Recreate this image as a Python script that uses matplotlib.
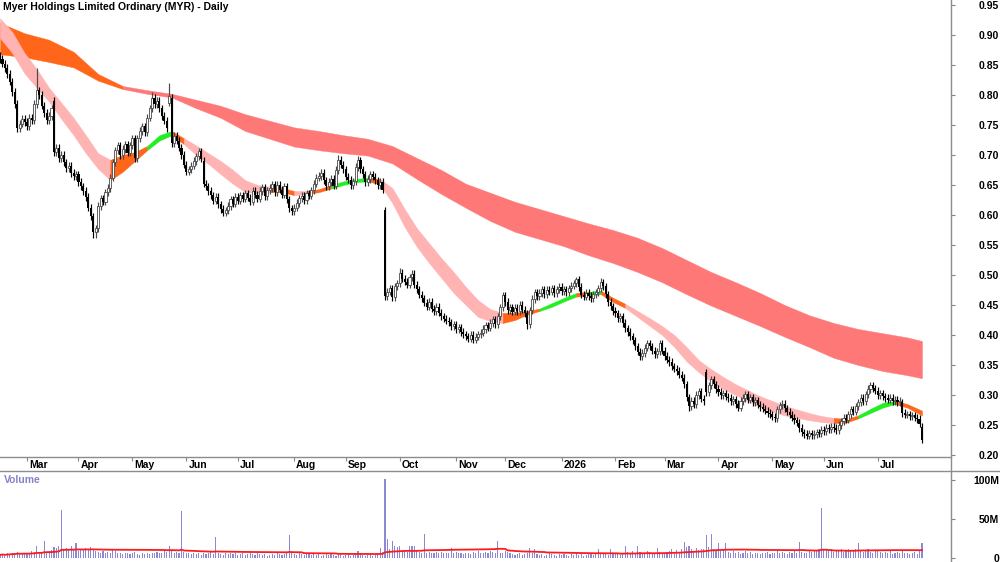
import numpy as np
import pandas as pd
import matplotlib
matplotlib.use("Agg")
import matplotlib.pyplot as plt
from matplotlib.lines import Line2D
from matplotlib.transforms import blended_transform_factory

plt.rcParams['font.family'] = ['Liberation Sans', 'DejaVu Sans']

TITLE = "Myer Holdings Limited Ordinary (MYR) - Daily"
START_DATE = "2025-02-14"

# daily closes, in thousandths of a dollar
CLOSE = [
    860, 852, 845, 835, 822, 805, 785, 745, 752, 760,
    755, 748, 762, 758, 785, 808, 800, 782, 770, 758,
    765, 778, 705, 712, 695, 700, 688, 678, 682, 670,
    665, 668, 655, 648, 640, 630, 612, 598, 572, 578,
    615, 628, 622, 638, 645, 662, 688, 708, 716, 700,
    710, 718, 704, 716, 728, 695, 728, 740, 748, 738,
    762, 778, 795, 785, 790, 778, 765, 757, 745, 798,
    720, 732, 724, 712, 700, 684, 672, 676, 682, 690,
    698, 706, 694, 652, 648, 640, 633, 624, 630, 618,
    610, 604, 608, 615, 626, 619, 630, 624, 633, 627,
    636, 629, 622, 640, 634, 627, 640, 646, 631, 641,
    645, 651, 638, 650, 642, 634, 648, 626, 611, 606,
    612, 620, 628, 632, 625, 636, 632, 641, 652, 662,
    665, 670, 658, 648, 655, 660, 649, 675, 692, 684,
    676, 664, 659, 650, 656, 680, 691, 676, 668, 655,
    660, 668, 664, 658, 650, 655, 642, 465, 472, 478,
    463, 481, 486, 504, 494, 489, 484, 496, 502, 484,
    476, 467, 461, 454, 447, 455, 444, 440, 447, 437,
    431, 427, 424, 421, 415, 418, 410, 413, 405, 401,
    398, 394, 400, 392, 397, 401, 404, 410, 416, 412,
    420, 426, 418, 431, 446, 466, 455, 441, 446, 439,
    445, 440, 450, 442, 436, 418, 441, 460, 471, 465,
    470, 476, 468, 475, 472, 478, 470, 476, 480, 473,
    476, 471, 478, 482, 486, 493, 480, 467, 464, 470,
    465, 461, 468, 471, 478, 488, 481, 468, 455, 448,
    440, 436, 428, 431, 420, 411, 405, 398, 391, 381,
    372, 365, 370, 379, 386, 381, 374, 368, 373, 386,
    374, 365, 359, 355, 348, 344, 340, 334, 329, 318,
    296, 281, 290, 285, 300, 306, 294, 290, 305, 316,
    326, 318, 310, 305, 300, 303, 297, 295, 290, 293,
    285, 279, 290, 295, 301, 292, 296, 288, 291, 284,
    280, 277, 274, 270, 268, 264, 261, 276, 283, 285,
    278, 272, 267, 262, 258, 254, 245, 238, 235, 232,
    236, 233, 235, 238, 236, 242, 240, 245, 243, 247,
    245, 241, 250, 256, 262, 259, 268, 276, 272, 281,
    288, 295, 290, 301, 310, 316, 311, 307, 300, 303,
    298, 295, 292, 295, 290, 292, 288, 290, 270, 267,
    268, 265, 266, 262, 260, 252, 225,
]
# opens that gap away from the previous close (bar index: open)
GAP_OPEN = {0: 865, 22: 790, 69: 787, 70: 795, 83: 690, 157: 608,
            288: 338, 368: 288, 376: 247}
SPIKE_HIGH = {15: 845, 62: 805, 69: 820, 138: 700, 146: 698, 163: 512,
              235: 497, 245: 495, 264: 392, 288: 343, 355: 322}
SPIKE_LOW = {38: 562, 39: 562, 119: 600, 193: 386, 215: 410, 281: 274,
             329: 226, 376: 220}

# daily volume, millions of shares
VOLUME_M = [
    4, 5, 3, 6, 5, 7, 6, 8, 5, 6,
    7, 5, 6, 9, 8, 15, 7, 6, 22, 8,
    9, 10, 14, 13, 16, 61, 12, 13, 10, 15,
    11, 19, 9, 12, 10, 13, 11, 14, 12, 9,
    8, 7, 9, 6, 8, 7, 12, 9, 7, 6,
    5, 6, 7, 5, 6, 8, 5, 4, 6, 5,
    6, 5, 7, 6, 8, 6, 7, 9, 8, 15,
    9, 7, 8, 6, 60, 8, 7, 6, 5, 7,
    5, 6, 4, 7, 5, 6, 8, 5, 27, 6,
    5, 4, 6, 5, 7, 5, 6, 4, 5, 6,
    4, 5, 6, 5, 4, 6, 5, 4, 5, 3,
    4, 5, 4, 6, 5, 4, 5, 7, 29, 6,
    5, 4, 6, 5, 4, 5, 6, 4, 5, 4,
    5, 3, 4, 5, 4, 6, 4, 3, 5, 4,
    3, 4, 5, 3, 4, 6, 9, 5, 4, 3,
    4, 5, 3, 4, 6, 13, 8, 101, 24, 12,
    22, 15, 14, 15, 10, 9, 8, 16, 15, 16,
    9, 8, 7, 31, 6, 8, 7, 6, 8, 7,
    8, 6, 7, 7, 13, 7, 8, 6, 7, 5,
    6, 7, 5, 8, 6, 9, 7, 6, 8, 7,
    9, 8, 7, 22, 6, 7, 9, 8, 6, 5,
    4, 5, 6, 4, 5, 7, 13, 6, 12, 5,
    4, 5, 3, 4, 6, 5, 4, 3, 5, 4,
    5, 4, 3, 5, 4, 6, 4, 5, 3, 4,
    5, 6, 4, 5, 11, 6, 5, 7, 4, 11,
    5, 6, 7, 4, 5, 15, 8, 6, 9, 7,
    15, 8, 6, 7, 9, 8, 6, 7, 13, 8,
    7, 6, 8, 9, 12, 7, 10, 8, 11, 21,
    14, 16, 12, 9, 13, 10, 11, 12, 30, 14,
    31, 12, 10, 19, 9, 11, 19, 8, 7, 9,
    6, 8, 5, 7, 9, 6, 8, 5, 7, 6,
    5, 7, 6, 8, 5, 6, 7, 9, 6, 8,
    7, 5, 8, 6, 9, 7, 20, 8, 6, 7,
    9, 8, 10, 9, 11, 64, 12, 10, 9, 11,
    8, 10, 9, 12, 8, 9, 11, 10, 9, 12,
    19, 10, 8, 9, 11, 8, 7, 9, 10, 8,
    6, 8, 7, 9, 5, 6, 8, 7, 9, 6,
    7, 5, 6, 8, 5, 9, 19,
]

# short-term moving-average ribbon, read every 5 bars (thousandths)
SHORT_IDX = [0, 5, 10, 15, 20, 25, 30, 35, 40, 45, 50, 55, 60, 65, 70, 75,
             80, 85, 90, 95, 100, 105, 110, 115, 120, 125, 130, 135, 140,
             145, 150, 155, 160, 165, 170, 175, 180, 185, 190, 195, 200,
             205, 210, 215, 220, 225, 230, 235, 240, 245, 250, 255, 260,
             265, 270, 275, 280, 285, 290, 295, 300, 305, 310, 315, 320,
             325, 330, 335, 340, 345, 350, 355, 360, 365, 370, 376]
SHORT_UPPER = [928, 905, 870, 843, 812, 787, 762, 733, 703, 692, 700, 705,
               715, 733, 740, 728, 716, 703, 690, 675, 658, 650, 647, 645,
               640, 640, 643, 650, 656, 660, 662, 660, 645, 610, 578, 553,
               528, 505, 480, 458, 443, 437, 437, 440, 444, 453, 462, 470,
               472, 474, 462, 452, 440, 428, 415, 400, 380, 358, 343, 330,
               318, 308, 298, 290, 282, 276, 270, 265, 262, 260, 266, 277,
               287, 290, 285, 274]
SHORT_LOWER = [895, 870, 836, 812, 789, 760, 733, 703, 677, 658, 672, 690,
               708, 724, 733, 718, 700, 685, 668, 652, 638, 637, 638, 638,
               633, 635, 638, 644, 650, 655, 656, 651, 620, 580, 547, 520,
               495, 470, 450, 430, 423, 420, 425, 434, 440, 447, 456, 464,
               466, 468, 455, 445, 430, 415, 400, 380, 356, 338, 322, 310,
               300, 290, 280, 272, 266, 262, 258, 255, 253, 254, 261, 270,
               279, 285, 279, 266]
# trend state of each ribbon segment: P = falling, O = turning, G = rising
SHORT_STATE = ("PPPPPPPPP" "OOO" "GG" "O" "PPPPPPP" "OO" "P" "OO" "GGG"
               "O" "PPPPPPPPPP" "OOO" "GGG" "O" "G" "OO" "PPPPPPPPPPPPPPPPP"
               "OO" "GGG" "OO")

# long-term moving-average ribbon, read every 10 bars (thousandths)
LONG_IDX = [0, 10, 20, 30, 40, 50, 60, 70, 80, 90, 100, 110, 120, 130, 140,
            150, 160, 170, 180, 190, 200, 210, 220, 230, 240, 250, 260, 270,
            280, 290, 300, 310, 320, 330, 340, 350, 360, 370, 376]
LONG_UPPER = [920, 903, 892, 872, 835, 815, 808, 802, 792, 782, 768, 757,
              746, 740, 733, 727, 715, 695, 675, 652, 637, 622, 610, 598,
              586, 575, 562, 545, 525, 505, 488, 470, 450, 433, 420, 410,
              403, 396, 390]
LONG_LOWER = [868, 863, 855, 846, 824, 810, 802, 796, 778, 762, 740, 727,
              714, 708, 703, 699, 686, 660, 635, 612, 590, 572, 560, 548,
              533, 520, 505, 488, 468, 449, 432, 415, 397, 380, 362, 350,
              340, 333, 328]
LONG_STATE = "OOOOO" + "R" * 33

PRICE_TICKS = [0.20, 0.25, 0.30, 0.35, 0.40, 0.45, 0.50, 0.55, 0.60, 0.65,
               0.70, 0.75, 0.80, 0.85, 0.90, 0.95]
VOLUME_TICKS = [0, 50, 100]
VOLUME_TICK_LABELS = ["0", "50M", "100M"]

STATE_COLORS = {"P": "#ffb3b3", "O": "#ff661a", "G": "#22ee22", "R": "#ff7878"}

# ---------------------------------------------------------------------------
W, H = 1000, 562
fig = plt.figure(figsize=(W / 100, H / 100), dpi=100)
fig.patch.set_facecolor("white")

AX_RIGHT = 951
main_bottom, main_top = 456, 0
strip_top, strip_bottom = 457, 471


def fr(x0, y0, x1, y1):
    return [x0 / W, 1 - y1 / H, (x1 - x0) / W, (y1 - y0) / H]


ax = fig.add_axes(fr(0, main_top, AX_RIGHT, main_bottom))
ax_d = fig.add_axes(fr(0, strip_top, AX_RIGHT, strip_bottom))
ax_v = fig.add_axes(fr(0, strip_bottom, AX_RIGHT, H))

close = np.array(CLOSE, dtype=float) / 1000
n = len(close)
x = np.arange(n)
dates = pd.bdate_range(START_DATE, periods=n)
opens = np.r_[close[:1], close[:-1]].copy()
for k, v in GAP_OPEN.items():
    opens[k] = v / 1000
WICK = 0.006
high = np.maximum(opens, close) + WICK
low = np.minimum(opens, close) - WICK
for k, v in SPIKE_HIGH.items():
    high[k] = v / 1000
for k, v in SPIKE_LOW.items():
    low[k] = v / 1000

px_per_bar = 2.452
x_left = -0.012
x_right = x_left + AX_RIGHT / px_per_bar
for a in (ax, ax_d, ax_v):
    a.set_xlim(x_left, x_right)


def draw_ribbon(a, idx, upper, lower, states, z):
    idx = np.asarray(idx, dtype=float)
    up = np.asarray(upper, dtype=float) / 1000
    lo = np.asarray(lower, dtype=float) / 1000
    k = 0
    while k < len(states):
        s = states[k]
        j = k
        while j + 1 < len(states) and states[j + 1] == s:
            j += 1
        sl = slice(k, j + 2)
        c = STATE_COLORS[s]
        a.fill_between(idx[sl], lo[sl], up[sl], facecolor=c, edgecolor=c,
                       linewidth=0.3, zorder=z)
        k = j + 1


draw_ribbon(ax, LONG_IDX, LONG_UPPER, LONG_LOWER, LONG_STATE, 1)
draw_ribbon(ax, SHORT_IDX, SHORT_UPPER, SHORT_LOWER, SHORT_STATE, 2)

upb = close >= opens
dnb = ~upb
wick_colors = np.where(upb, "#4a4a4a", "#000000")
ax.vlines(x, low, high, colors=wick_colors, linewidth=0.85, zorder=3)
ax.bar(x[upb], (close - opens)[upb], bottom=opens[upb], width=0.85,
       facecolor="white", edgecolor="#4a4a4a", linewidth=0.6, zorder=4)
ax.bar(x[dnb], (opens - close)[dnb], bottom=close[dnb], width=0.85,
       color="black", linewidth=0, zorder=4)

ax.set_ylim(0.95 - 451 / 600, 0.95 + 5 / 600)
ax.yaxis.tick_right()
ax.set_yticks(PRICE_TICKS)
ax.set_yticklabels([f"{t:.2f}" for t in PRICE_TICKS])
ax.set_xticks([])
for side in ("top", "left", "bottom", "right"):
    ax.spines[side].set_visible(False)

label_pad = (998 - AX_RIGHT - 3) * 72 / 100
for a in (ax, ax_v):
    a.tick_params(axis="y", direction="out", length=3, width=0.8,
                  color="#888888", labelsize=7.5, pad=label_pad)

# date strip
ax_d.set_ylim(0, 1)
ax_d.set_yticks([])
for side in ("top", "left", "bottom", "right"):
    ax_d.spines[side].set_visible(False)
month_idx = [i for i in range(1, n) if dates[i].month != dates[i - 1].month]
ax_d.set_xticks(month_idx)
ax_d.set_xticklabels([])
ax_d.tick_params(axis="x", direction="in", length=3, width=0.8,
                 color="#888888", top=True, bottom=False)
trans = blended_transform_factory(ax_d.transData, ax_d.transAxes)
for i in month_idx:
    d = dates[i]
    lab = str(d.year) if d.month == 1 else d.strftime("%b")
    ax_d.text(i + 0.8, 0.42, lab, transform=trans, ha="left", va="center",
              fontsize=7.5, fontweight="bold", color="black")

# volume
vol = np.array(VOLUME_M, dtype=float)
ax_v.bar(x, vol, width=0.45, color="#8a8ad4", linewidth=0)
vol_ma = pd.Series(vol).rolling(50, min_periods=1).mean()
ax_v.plot(x, vol_ma, color="#ff1a1a", linewidth=1.3)
ax_v.set_ylim(-4 / 0.78, (562 - 471) / 0.78 - 4 / 0.78)
ax_v.yaxis.tick_right()
ax_v.set_yticks(VOLUME_TICKS)
ax_v.set_yticklabels(VOLUME_TICK_LABELS)
ax_v.set_xticks([])
for side in ("top", "left", "bottom", "right"):
    ax_v.spines[side].set_visible(False)

for a in (ax, ax_v):
    for lbl in a.get_yticklabels():
        lbl.set_horizontalalignment("right")
        lbl.set_fontweight("bold")

# frame lines
gray = "#8c8c8c"
fig.add_artist(Line2D([0, AX_RIGHT / W], [1 - strip_top / H] * 2,
                      color=gray, linewidth=1.0))
fig.add_artist(Line2D([0, 1], [1 - strip_bottom / H] * 2,
                      color=gray, linewidth=1.0))
fig.add_artist(Line2D([AX_RIGHT / W] * 2, [0, 1], color=gray, linewidth=1.0))

fig.text(3 / W, 1 - 2 / H, TITLE, ha="left", va="top", fontsize=7.5,
         fontweight="bold", color="black")
fig.text(4 / W, 1 - 475 / H, "Volume", ha="left", va="top", fontsize=7.5,
         fontweight="bold", color="#8484c4")

fig.savefig("out.png", dpi=100, facecolor="white")
